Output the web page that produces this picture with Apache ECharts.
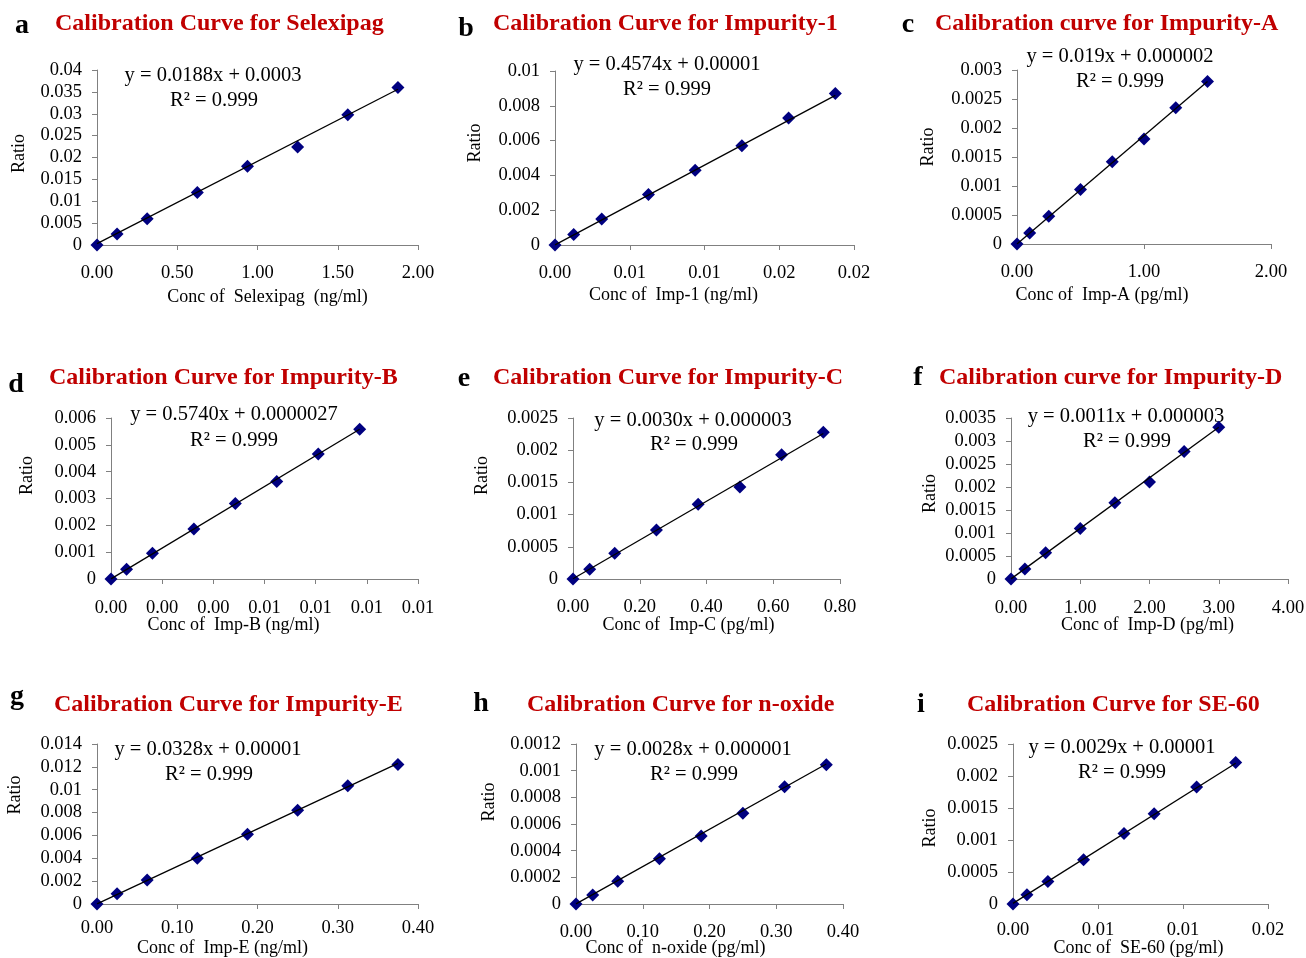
<!DOCTYPE html>
<html><head><meta charset="utf-8">
<script src="https://cdn.jsdelivr.net/npm/echarts@6/dist/echarts.min.js"></script>
<style>html,body{margin:0;padding:0;background:#fff}#c{width:1306px;height:958px}</style>
</head><body><div id="c"></div>
<script>
// ---- text ----
const letters = ['a','b','c','d','e','f','g','h','i'];
const titles = [
  'Calibration Curve for Selexipag',
  'Calibration Curve for Impurity-1',
  'Calibration curve for Impurity-A',
  'Calibration Curve for Impurity-B',
  'Calibration Curve for Impurity-C',
  'Calibration curve for Impurity-D',
  'Calibration Curve for Impurity-E',
  'Calibration Curve for n-oxide',
  'Calibration Curve for SE-60'
];
const xNames = [
  'Conc of  Selexipag  (ng/ml)',
  'Conc of  Imp-1 (ng/ml)',
  'Conc of  Imp-A (pg/ml)',
  'Conc of  Imp-B (ng/ml)',
  'Conc of  Imp-C (pg/ml)',
  'Conc of  Imp-D (pg/ml)',
  'Conc of  Imp-E (ng/ml)',
  'Conc of  n-oxide (pg/ml)',
  'Conc of  SE-60 (pg/ml)'
];
const yName = 'Ratio';
const equations = [
  'y = 0.0188x + 0.0003',
  'y = 0.4574x + 0.00001',
  'y = 0.019x + 0.000002',
  'y = 0.5740x + 0.0000027',
  'y = 0.0030x + 0.000003',
  'y = 0.0011x + 0.000003',
  'y = 0.0328x + 0.00001',
  'y = 0.0028x + 0.000001',
  'y = 0.0029x + 0.00001'
];
const r2Labels = ['R² = 0.999','R² = 0.999','R² = 0.999','R² = 0.999','R² = 0.999','R² = 0.999','R² = 0.999','R² = 0.999','R² = 0.999'];

// ---- data ----
const xA = [0, 0.125, 0.3125, 0.625, 0.9375, 1.25, 1.5625, 1.875];
const yA = [0, 0.0025, 0.006, 0.012, 0.018, 0.0224, 0.0298, 0.036];
const xB = [0, 0.00125, 0.003125, 0.00625, 0.009375, 0.0125, 0.015625, 0.01875];
const yB = [0, 0.0006, 0.0015, 0.0029, 0.0043, 0.0057, 0.0073, 0.0087];
const xC = [0, 0.1, 0.25, 0.5, 0.75, 1.0, 1.25, 1.5];
const yC = [0, 0.00019, 0.00048, 0.00094, 0.00142, 0.00181, 0.00235, 0.0028];
const xD = [0, 0.000608, 0.00162, 0.00324, 0.00486, 0.00648, 0.0081, 0.00972];
const yD = [0, 0.00036, 0.00096, 0.00186, 0.00281, 0.00363, 0.00466, 0.00558];
const xE = [0, 0.05, 0.125, 0.25, 0.375, 0.5, 0.625, 0.75];
const yE = [0, 0.00015, 0.0004, 0.00076, 0.00116, 0.00143, 0.00193, 0.00228];
const xF = [0, 0.2, 0.5, 1.0, 1.5, 2.0, 2.5, 3.0];
const yF = [0, 0.00022, 0.00057, 0.0011, 0.00166, 0.00211, 0.00277, 0.0033];
const xG = [0, 0.025, 0.0625, 0.125, 0.1875, 0.25, 0.3125, 0.375];
const yG = [0, 0.0009, 0.0021, 0.0040, 0.0061, 0.0082, 0.01035, 0.0122];
const xH = [0, 0.025, 0.0625, 0.125, 0.1875, 0.25, 0.3125, 0.375];
const yH = [0, 0.000068, 0.00017, 0.00034, 0.00051, 0.00068, 0.00088, 0.001045];
const xI = [0, 0.00082, 0.00205, 0.00415, 0.00653, 0.0083, 0.0108, 0.0131];
const yI = [0, 0.000146, 0.00035, 0.00069, 0.0011, 0.00141, 0.00183, 0.00221];
// trendline end values (start, end)
const trendA = [0.0003, 0.0356];
const trendB = [0.00001, 0.0086];
const trendC = [0.000002, 0.0028];
const trendD = [0.0000027, 0.00558];
const trendE = [0.000003, 0.00226];
const trendF = [0.000003, 0.0033];
const trendG = [0.00001, 0.0123];
const trendH = [0.000001, 0.00105];
const trendI = [0.00001, 0.0022];

// axis scales
const xMax  = [2, 0.02, 2, 0.012, 0.8, 4, 0.4, 0.4, 0.015];
const xStep = [0.5, 0.005, 1, 0.002, 0.2, 1, 0.1, 0.1, 0.005];
const yMax  = [0.04, 0.01, 0.003, 0.006, 0.0025, 0.0035, 0.014, 0.0012, 0.0025];
const yStep = [0.005, 0.002, 0.0005, 0.001, 0.0005, 0.0005, 0.002, 0.0002, 0.0005];

const xs = [xA,xB,xC,xD,xE,xF,xG,xH,xI];
const ys = [yA,yB,yC,yD,yE,yF,yG,yH,yI];
const trends = [trendA,trendB,trendC,trendD,trendE,trendF,trendG,trendH,trendI];

// ---- layout (positions only) ----
const layout = [
  {g:[97,70,321,175],  xGap:43, xShift:10,  xMargin:19, yGap:69, yShift:4,  eq:[213,76,214,101], t:[55,12],  l:[22,12]},
  {g:[555,71,299,174], xGap:41, xShift:-31, xMargin:19, yGap:71, yShift:15, eq:[667,65,667,90],  t:[493,12], l:[466,15]},
  {g:[1017,70,254,174],xGap:42, xShift:-42, xMargin:19, yGap:80, yShift:10, eq:[1120,57,1120,82],t:[935,12], l:[908,11]},
  {g:[111,418,307,161],xGap:37, xShift:-31, xMargin:20, yGap:75, yShift:23, eq:[234,415,234,441],t:[49,366], l:[16,371]},
  {g:[573,418,267,161],xGap:37, xShift:-18, xMargin:19, yGap:82, yShift:23, eq:[693,421,694,445],t:[493,366],l:[464,365]},
  {g:[1011,418,277,161],xGap:37,xShift:-2,  xMargin:20, yGap:72, yShift:5,  eq:[1126,417,1127,442],t:[939,366],l:[918,364]},
  {g:[97,744,321,160], xGap:35, xShift:-35, xMargin:15, yGap:73, yShift:29, eq:[208,750,209,775],t:[54,693], l:[17,683]},
  {g:[576,744,267,160],xGap:35, xShift:-34, xMargin:19, yGap:78, yShift:22, eq:[693,750,694,775],t:[527,693],l:[481,690]},
  {g:[1013,744,255,160],xGap:35,xShift:-2,  xMargin:17, yGap:74, yShift:-4, eq:[1122,748,1122,773],t:[967,693],l:[921,691]}
];

const FONT = '"Liberation Serif","Times New Roman",serif';
const AX = '#808080';
const grids=[], xAxes=[], yAxes=[], series=[], titleArr=[], graphics=[];

layout.forEach((L,i)=>{
  grids.push({left:L.g[0], top:L.g[1], width:L.g[2], height:L.g[3], containLabel:false, outerBoundsMode:'none'});
  const xs2 = L.xShift;
  xAxes.push({
    type:'value', gridIndex:i, min:0, max:xMax[i], interval:xStep[i],
    name:xNames[i], nameLocation:'middle', nameGap:L.xGap, nameMoveOverlap:false,
    nameTextStyle:{fontFamily:FONT, fontSize:18, color:'#000',
      padding: xs2<0 ? [0, -2*xs2, 0, 0] : [0, 0, 0, 2*xs2]},
    axisLine:{show:true, onZero:false, lineStyle:{color:AX, width:1}},
    axisTick:{show:true, inside:false, length:5, lineStyle:{color:AX}},
    splitLine:{show:false},
    axisLabel:{margin:L.xMargin, fontFamily:FONT, fontSize:18.5, color:'#000',
      showMinLabel:true, showMaxLabel:true,
      formatter:v=>(v+1e-9).toFixed(2)}
  });
  const s = L.yShift;
  yAxes.push({
    type:'value', gridIndex:i, min:0, max:yMax[i], interval:yStep[i],
    name:yName, nameLocation:'middle', nameGap:L.yGap, nameMoveOverlap:false,
    nameTextStyle:{fontFamily:FONT, fontSize:18, color:'#000',
      padding: s>0 ? [0,0,0,2*s] : [0,-2*s,0,0]},
    axisLine:{show:true, onZero:false, lineStyle:{color:AX, width:1}},
    axisTick:{show:true, inside:false, length:5, lineStyle:{color:AX}},
    splitLine:{show:false},
    axisLabel:{margin:15, fontFamily:FONT, fontSize:18.5, color:'#000',
      showMinLabel:true, showMaxLabel:true,
      formatter:v=> v===0 ? '0' : String(parseFloat(v.toPrecision(8)))}
  });
  const x = xs[i], y = ys[i], tr = trends[i];
  series.push({
    type:'scatter', xAxisIndex:i, yAxisIndex:i,
    data:x.map((v,k)=>[v,y[k]]),
    symbol:'diamond', symbolSize:13,
    itemStyle:{color:'#000080', opacity:1},
    z:2, silent:true, animation:false
  });
  series.push({
    type:'line', xAxisIndex:i, yAxisIndex:i,
    data:[[x[0],tr[0]],[x[x.length-1],tr[1]]],
    symbol:'none', lineStyle:{color:'#000', width:1.3},
    z:3, silent:true, animation:false
  });
  titleArr.push({
    text:titles[i], left:L.t[0], top:L.t[1], padding:0,
    textStyle:{fontFamily:FONT, fontSize:24, fontWeight:'bold', color:'#c00000'}
  });
  graphics.push({type:'text', x:L.l[0], y:L.l[1], silent:true,
    style:{text:letters[i], font:'bold 28px '+FONT, fill:'#000',
      align:'center', textAlign:'center', verticalAlign:'top', textVerticalAlign:'top'}});
  graphics.push({type:'text', x:L.eq[0], y:L.eq[1], silent:true,
    style:{text:equations[i], font:'20.5px '+FONT, fill:'#000',
      align:'center', textAlign:'center', verticalAlign:'middle', textVerticalAlign:'middle'}});
  graphics.push({type:'text', x:L.eq[2], y:L.eq[3], silent:true,
    style:{text:r2Labels[i], font:'20.5px '+FONT, fill:'#000',
      align:'center', textAlign:'center', verticalAlign:'middle', textVerticalAlign:'middle'}});
});

const chart = echarts.init(document.getElementById('c'), null, {renderer:'canvas'});
chart.setOption({
  backgroundColor:'#fff',
  animation:false,
  title:titleArr,
  grid:grids,
  xAxis:xAxes,
  yAxis:yAxes,
  series:series,
  graphic:graphics
});
</script></body></html>
